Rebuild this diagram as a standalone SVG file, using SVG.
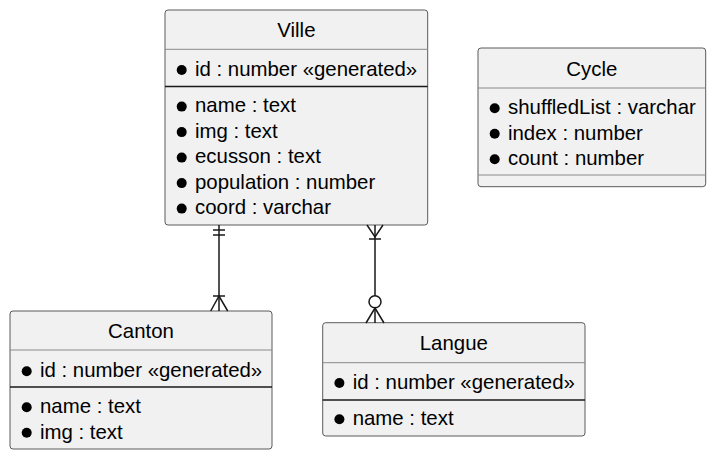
<svg xmlns="http://www.w3.org/2000/svg" width="716" height="459" viewBox="0 0 716 459">
<style>
.box{fill:#F1F1F1;stroke:#5a5a5a;stroke-width:1}
.sep{stroke:#8a8a8a;stroke-width:1}
.sep2{stroke:#181818;stroke-width:1.6}
text{font-family:"Liberation Sans",Arial,sans-serif;font-size:20.4px;fill:#000}
.t{text-anchor:middle}
.b{fill:#000}
.c{stroke:#181818;stroke-width:1.5;fill:none}
</style>
<rect width="716" height="459" fill="#fff"/>
<g id="Ville">
<rect class="box" x="165" y="10" width="262.7" height="215" rx="3"/>
<text class="t" x="296.4" y="37.3">Ville</text>
<line class="sep" x1="165" y1="49.3" x2="427.7" y2="49.3"/>
<circle class="b" cx="181.7" cy="70" r="5"/><text x="195" y="75.7">id : number «generated»</text>
<line class="sep2" x1="165" y1="86.5" x2="427.7" y2="86.5"/>
<circle class="b" cx="181.7" cy="106.6" r="5"/><text x="195" y="112.3">name : text</text>
<circle class="b" cx="181.7" cy="132.1" r="5"/><text x="195" y="137.8">img : text</text>
<circle class="b" cx="181.7" cy="157.6" r="5"/><text x="195" y="163.3">ecusson : text</text>
<circle class="b" cx="181.7" cy="183.1" r="5"/><text x="195" y="188.8">population : number</text>
<circle class="b" cx="181.7" cy="208.6" r="5"/><text x="195" y="214.3">coord : varchar</text>
</g>
<g id="Cycle">
<rect class="box" x="478" y="48" width="227.7" height="138.7" rx="3"/>
<text class="t" x="591.8" y="75.5">Cycle</text>
<line class="sep" x1="478" y1="88" x2="705.7" y2="88"/>
<circle class="b" cx="494.7" cy="108.3" r="5"/><text x="508" y="114">shuffledList : varchar</text>
<circle class="b" cx="494.7" cy="133.8" r="5"/><text x="508" y="139.5">index : number</text>
<circle class="b" cx="494.7" cy="159.3" r="5"/><text x="508" y="165">count : number</text>
<line class="sep" x1="478" y1="175" x2="705.7" y2="175"/>
</g>
<g id="Canton">
<rect class="box" x="10" y="311" width="262" height="138" rx="3"/>
<text class="t" x="141" y="338.3">Canton</text>
<line class="sep" x1="10" y1="350" x2="272" y2="350"/>
<circle class="b" cx="26.7" cy="371.3" r="5"/><text x="40" y="377">id : number «generated»</text>
<line class="sep2" x1="10" y1="387" x2="272" y2="387"/>
<circle class="b" cx="26.7" cy="407.3" r="5"/><text x="40" y="413">name : text</text>
<circle class="b" cx="26.7" cy="432.8" r="5"/><text x="40" y="438.5">img : text</text>
</g>
<g id="Langue">
<rect class="box" x="322.7" y="322.7" width="262.3" height="113.3" rx="3"/>
<text class="t" x="453.8" y="350">Langue</text>
<line class="sep" x1="322.7" y1="362.7" x2="585" y2="362.7"/>
<circle class="b" cx="339.4" cy="383" r="5"/><text x="352.7" y="388.7">id : number «generated»</text>
<line class="sep2" x1="322.7" y1="400" x2="585" y2="400"/>
<circle class="b" cx="339.4" cy="419.3" r="5"/><text x="352.7" y="425">name : text</text>
</g>
<g id="connectors">
<g id="ville-canton">
<line class="c" x1="219" y1="225" x2="219" y2="311"/>
<line class="c" x1="213" y1="230" x2="225" y2="230"/>
<line class="c" x1="213" y1="235" x2="225" y2="235"/>
<line class="c" x1="213" y1="296" x2="225" y2="296"/>
<polyline class="c" points="210.7,311 219,296 227.7,311"/>
</g>
<g id="ville-langue">
<polyline class="c" points="367,225 375,237 383,225"/>
<line class="c" x1="375" y1="225" x2="375" y2="295.7"/>
<line class="c" x1="369" y1="239" x2="381" y2="239"/>
<circle class="c" cx="375" cy="301.7" r="6"/>
<line class="c" x1="375" y1="307.7" x2="375" y2="323"/>
<polyline class="c" points="366,323 375,308 384,323"/>
</g>
</g>
</svg>
